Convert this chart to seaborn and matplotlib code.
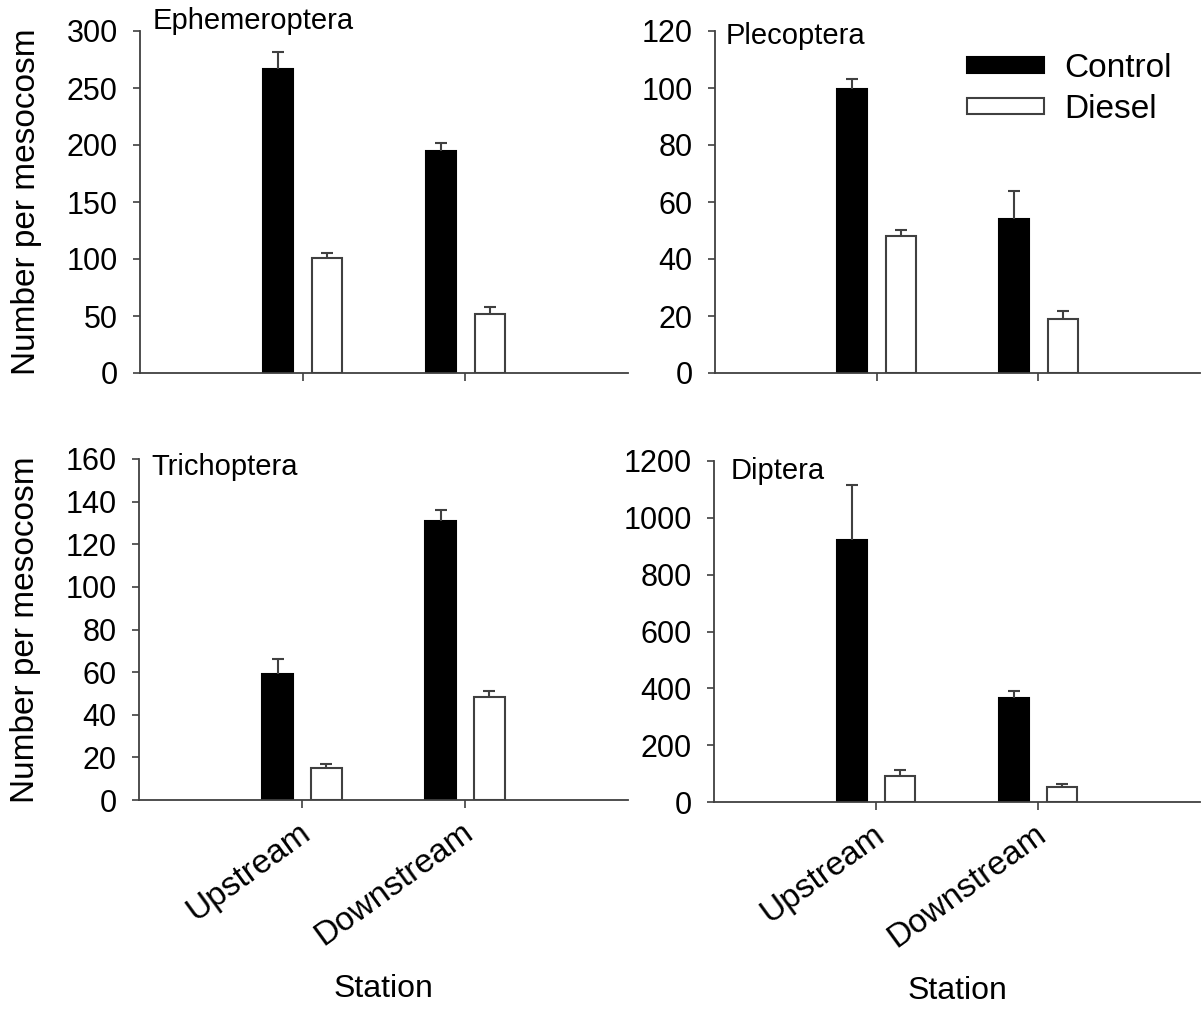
import pandas as pd
import matplotlib
matplotlib.use('Agg')
import matplotlib.pyplot as plt
import matplotlib.transforms as mtransforms
import seaborn as sns

# values
stations = ['Upstream', 'Downstream']
treatments = ['Control', 'Diesel']

ephem_control = [267, 195]
ephem_diesel = [101, 52]
ephem_control_se = [15, 7]
ephem_diesel_se = [4, 6]

pleco_control = [99.6, 54]
pleco_diesel = [48, 19]
pleco_control_se = [3.5, 9.8]
pleco_diesel_se = [2.3, 2.7]

tricho_control = [59, 131]
tricho_diesel = [15, 48.5]
tricho_control_se = [7.3, 5.3]
tricho_diesel_se = [1.7, 2.8]

dipt_control = [922, 365]
dipt_diesel = [92, 54]
dipt_control_se = [193, 27]
dipt_diesel_se = [20, 9]

sns.set_style('ticks')
plt.rcParams['font.family'] = ['Liberation Sans', 'DejaVu Sans']
plt.rcParams['text.color'] = 'black'
plt.rcParams['xtick.labelcolor'] = 'black'
plt.rcParams['ytick.labelcolor'] = 'black'
plt.rcParams['axes.labelcolor'] = 'black'

edge = '#404040'

panels = [
    # name, control, diesel, control se, diesel se, ylim, ystep, axes rect, title pos
    ('Ephemeroptera', ephem_control, ephem_diesel, ephem_control_se, ephem_diesel_se,
     300, 50, [140/1201, 1-373/1015, 488/1201, 342/1015], (0.026, 1.03)),
    ('Plecoptera', pleco_control, pleco_diesel, pleco_control_se, pleco_diesel_se,
     120, 20, [715/1201, 1-373/1015, 485/1201, 342/1015], (0.021, 0.985)),
    ('Trichoptera', tricho_control, tricho_diesel, tricho_control_se, tricho_diesel_se,
     160, 20, [139/1201, 1-800/1015, 489/1201, 341/1015], (0.025, 0.977)),
    ('Diptera', dipt_control, dipt_diesel, dipt_control_se, dipt_diesel_se,
     1200, 200, [714/1201, 1-802/1015, 486/1201, 341/1015], (0.035, 0.971)),
]

fig = plt.figure(figsize=(12.01, 10.15), dpi=100)
shift = mtransforms.ScaledTranslation(5 / 100, 0, fig.dpi_scale_trans)

for i, (name, ctrl, dies, ctrl_se, dies_se, ymax, ystep, rect, tpos) in enumerate(panels):
    ax = fig.add_axes(rect)
    df = pd.DataFrame({
        'station': stations * 2,
        'treatment': ['Control'] * 2 + ['Diesel'] * 2,
        'value': ctrl + dies,
    })
    sns.barplot(data=df, x='station', y='value', hue='treatment', order=stations,
                hue_order=treatments, palette={'Control': 'black', 'Diesel': 'white'},
                width=0.6, gap=0.38, errorbar=None, legend=False, ax=ax)

    errs = [ctrl_se, dies_se]
    for cont, se, ec in zip(ax.containers, errs, ['black', edge]):
        xs = []
        ys = []
        for bar in cont:
            bar.set_edgecolor(ec)
            bar.set_linewidth(1.5)
            xs.append(bar.get_x() + bar.get_width() / 2)
            ys.append(bar.get_height())
        eb = ax.errorbar(xs, ys, yerr=[[0] * len(se), se], fmt='none', ecolor=edge,
                         elinewidth=1.5, capsize=4, capthick=1.5, zorder=1)
        # only the upper cap
        eb[1][0].set_visible(False)

    ax.set_xlim(-1, 2)
    ax.set_ylim(0, ymax)
    ax.set_yticks(range(0, ymax + 1, ystep))
    ax.tick_params(axis='y', labelsize=22, length=5, width=1.2, color=edge, pad=11)
    ax.tick_params(axis='x', labelsize=24, length=6, width=1.2, color=edge, pad=15)
    for s in ['top', 'right']:
        ax.spines[s].set_visible(False)
    for s in ['left', 'bottom']:
        ax.spines[s].set_color(edge)
        ax.spines[s].set_linewidth(1.3)

    ax.text(tpos[0], tpos[1], name, transform=ax.transAxes, fontsize=21,
            ha='left', va='center')

    if i < 2:
        ax.set_xticklabels([])
        ax.set_xlabel('')
    else:
        ax.set_xticklabels(stations, rotation=36, ha='right', va='center',
                           rotation_mode='anchor')
        for lbl in ax.get_xticklabels():
            lbl.set_transform(lbl.get_transform() + shift)
        ax.set_xlabel('Station', fontsize=23)
        ax.xaxis.set_label_coords(0.5, -0.51)

    if i % 2 == 0:
        ax.set_ylabel('Number per mesocosm', fontsize=24)
        ax.yaxis.set_label_coords(-0.2, 0.5)
    else:
        ax.set_ylabel('')

    if name == 'Plecoptera':
        handles = [ax.containers[0][0], ax.containers[1][0]]
        ax.legend(handles, treatments, loc='upper left', bbox_to_anchor=(0.52, 0.935),
                  frameon=False, fontsize=24, handlelength=2.3, handleheight=0.35,
                  handletextpad=0.6, labelspacing=0.3, borderpad=0, borderaxespad=0)

plt.savefig('out.png', dpi=100)
